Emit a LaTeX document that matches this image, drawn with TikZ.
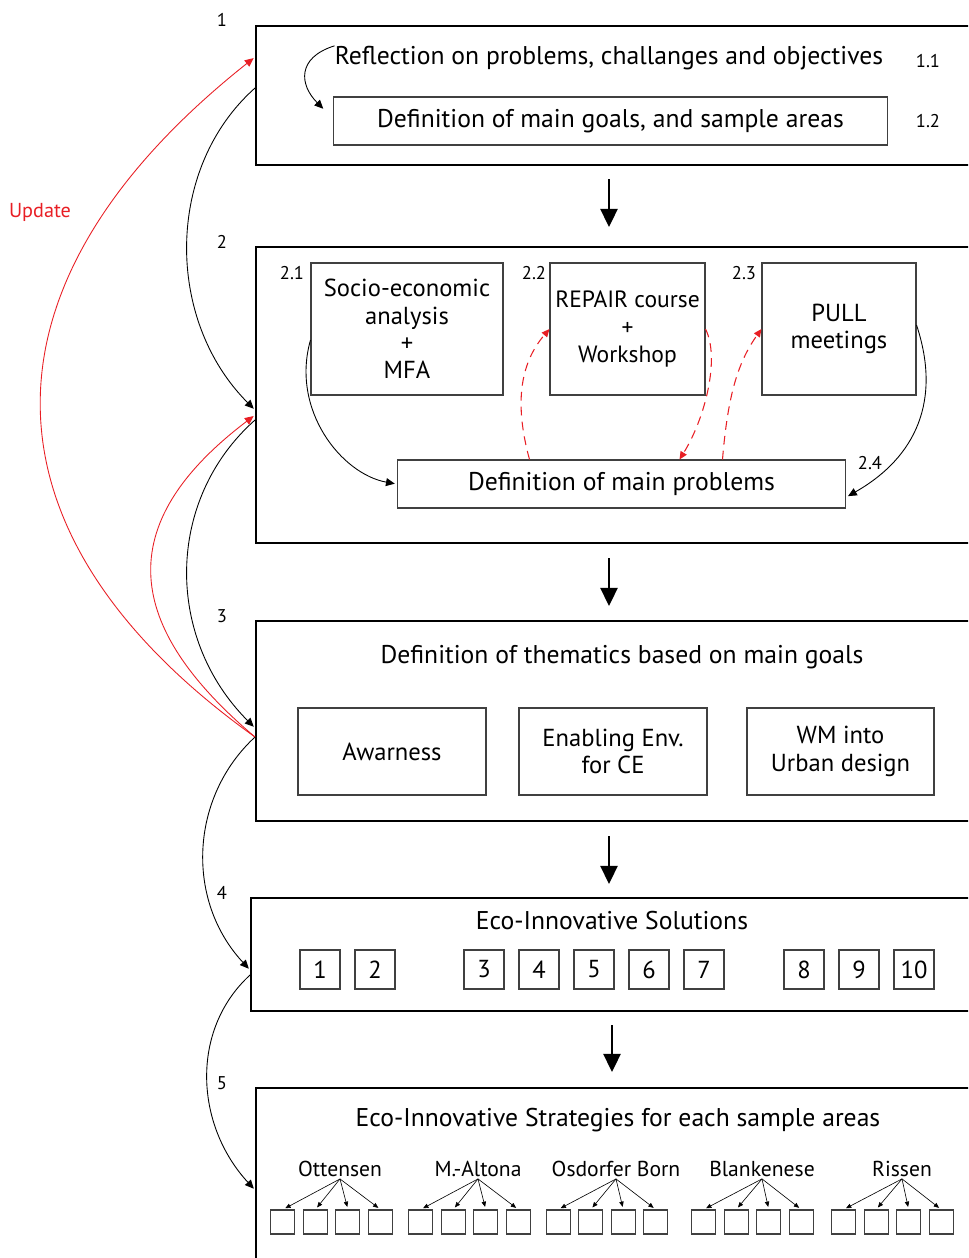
\documentclass[tikz,border=0pt]{standalone}
\usepackage{fontspec}
\setmainfont{PT Sans}
\usetikzlibrary{arrows.meta, positioning, calc}
\definecolor{updred}{RGB}{232,30,36}

\begin{document}
\begin{tikzpicture}[
  x=0.02cm, y=-0.02cm,
  stage/.style = {draw, line width=1.2pt, minimum width=14.88cm, inner sep=0pt},
  sub/.style   = {draw=black!75, line width=0.6pt, align=center, inner sep=0pt,
                  font=\fontsize{14}{15.5}\selectfont},
  wide/.style  = {sub, font=\fontsize{14.6}{16}\selectfont},
  ttl/.style   = {inner sep=0pt, font=\fontsize{14.6}{16}\selectfont},
  num/.style   = {font=\fontsize{10.5}{12}\selectfont},
  nbox/.style  = {sub, minimum width=0.8cm, minimum height=0.78cm},
  sbox/.style  = {draw=black!75, line width=0.6pt, minimum size=0.48cm, inner sep=0pt},
  area/.style  = {inner sep=1pt, font=\fontsize{12.3}{14}\selectfont},
  flow/.style  = {-{Triangle[length=0.36cm,width=0.34cm]}, line width=1.4pt},
  link/.style  = {-{Triangle[length=5pt,width=4.5pt]}, line width=0.5pt, shorten >=1pt},
  upd/.style   = {link, updred},
  fb/.style    = {-{Triangle[length=4.5pt,width=4pt]}, updred, line width=0.6pt,
                  dash pattern=on 5pt off 3.5pt},
  tiny/.style  = {-{Triangle[length=3pt,width=2.5pt]}, line width=0.35pt, shorten >=1.5pt},
]
\path[use as bounding box, clip] (0,0) rectangle (968,1258);

% ── Stage 1 ──────────────────────────────────────────────────────────────────
\node[stage, minimum height=2.78cm] (b1) at (628,95.5) {};
\node[num] (l1) at (222,20) {1};
\node[ttl] (ti1) at (609,58) {Reflection on problems, challanges and objectives};
\node[wide, minimum width=11.1cm, minimum height=0.96cm] (g12) at (610.5,121)
      {Definition of main goals, and sample areas};
\node[num] (n11) at (928,61)  {1.1};
\node[num] (n12) at (928,121) {1.2};
\draw[link] (ti1.north west) .. controls +(-38,12) and +(-25,-25) .. ([shift={(-8,-11)}]g12.west);

% ── Stage 2 ──────────────────────────────────────────────────────────────────
\node[stage, minimum height=5.92cm] (b2) at (628,395) {};
\node[num] (l2) at (222,242) {2};
\node[sub, minimum width=3.84cm, minimum height=2.64cm] (s21) at (407,329)
      {Socio-economic\\analysis\\+\\MFA};
\node[sub, minimum width=3.1cm,  minimum height=2.64cm, font=\fontsize{13.4}{15.5}\selectfont] (s22) at (627.5,329)
      {REPAIR course\\+\\Workshop};
\node[sub, minimum width=3.08cm, minimum height=2.64cm] (s23) at (839,329)
      {PULL\\meetings};
\node[wide, minimum width=8.98cm, minimum height=0.96cm] (s24) at (621.5,484)
      {Definition of main problems};
\node[num] (n21) at (292,273) {2.1};
\node[num] (n22) at (534,273) {2.2};
\node[num] (n23) at (744,273) {2.3};
\node[num] (n24) at (870,463) {2.4};

\draw[link] ([shift={(0,11)}]s21.west) .. controls +(-20,70) and +(-55,-10) .. (s24.west);
\draw[link] ([shift={(0,-4)}]s23.east) .. controls +(25,75) and +(70,-40) .. ([shift={(0,13)}]s24.east);

\draw[fb] ([shift={(-92,0)}]s24.north) .. controls +(-15,-55) and +(-30,35) .. (s22.west);
\draw[fb] (s22.east) .. controls +(15,30) and +(25,-40) .. ([shift={(58,0)}]s24.north);
\draw[fb] ([shift={(101,0)}]s24.north) .. controls +(5,-60) and +(-25,35) .. (s23.west);

% ── Stage 3 ──────────────────────────────────────────────────────────────────
\node[stage, minimum height=4cm] (b3) at (628,721) {};
\node[num] (l3) at (222,616) {3};
\node[ttl] (ti3) at (622,657) {Definition of thematics based on main goals};
\node[sub, minimum width=3.76cm, minimum height=1.74cm] (aw) at (392,751.5)  {Awarness};
\node[sub, minimum width=3.76cm, minimum height=1.74cm] (en) at (613,751.5)  {Enabling Env.\\for CE};
\node[sub, minimum width=3.74cm, minimum height=1.74cm] (wm) at (840.5,751.5) {WM into\\Urban design};

% ── Stage 4 ──────────────────────────────────────────────────────────────────
\node[stage, minimum width=14.98cm, minimum height=2.26cm] (b4) at (625.5,954.5) {};
\node[num] (l4) at (222,893) {4};
\node[ttl] (ti4) at (612,921) {Eco-Innovative Solutions};
\foreach \n/\x in {1/320, 2/375, 3/484, 4/539, 5/594, 6/649, 7/704, 8/804, 9/859, 10/914}
  \node[nbox] (e\n) at (\x,969.5) {\n};

% ── Stage 5 ──────────────────────────────────────────────────────────────────
\node[stage, minimum height=4.24cm] (b5) at (628,1194) {};
\node[num] (l5) at (222,1083) {5};
\node[ttl] (ti5) at (618,1120) {Eco-Innovative Strategies for each sample areas};
\foreach \i/\g/\lx/\name in {1/331.7/340/Ottensen, 2/469.5/478/M.-Altona,
    3/607/616/Osdorfer Born, 4/752.5/762/Blankenese, 5/892.4/902/Rissen} {
  \node[area] (a\i) at (\lx,1169) {\name};
  \foreach \j/\dx in {1/-48.75, 2/-16.25, 3/16.25, 4/48.75} {
    \node[sbox] (a\i\j) at (\g+\dx,1222) {};
    \draw[tiny] (a\i.south) -- (a\i\j.north);
  }
}

% ── Flow between stages ──────────────────────────────────────────────────────
\draw[flow, shorten <=0.26cm, shorten >=0.38cm] (b1.south -| ti1) -- (b2.north -| ti1);
\draw[flow, shorten <=0.28cm, shorten >=0.28cm] (b2.south -| ti1) -- (b3.north -| ti1);
\draw[flow, shorten <=0.28cm, shorten >=0.26cm] (b3.south -| ti1) -- (b4.north -| ti1);
\draw[flow, shorten <=0.26cm, shorten >=0.3cm]  (b4.south -| ti4) -- (b5.north -| ti4);

\draw[link] ([shift={(0,-7.5)}]b1.west) .. controls +(-90,80) and +(-90,-90) .. ([shift={(0,15)}]b2.west);
\draw[link] ([shift={(0,25)}]b2.west)   .. controls +(-90,80) and +(-90,-90) .. ([shift={(0,7)}]b3.west);
\draw[link] ([shift={(0,16)}]b3.west)   .. controls +(-65,60) and +(-65,-70) .. ([shift={(0,15.5)}]b4.west);
\draw[link] ([shift={(0,20.5)}]b4.west) .. controls +(-60,55) and +(-60,-65) .. ([shift={(0,-4)}]b5.west);

% ── Update loops ─────────────────────────────────────────────────────────────
\node[text=updred, font=\fontsize{11.5}{14}\selectfont] (upd) at (40,212) {Update};
\draw[upd] ([shift={(0,16)}]b3.west) .. controls +(-280,-200) and +(-290,230) .. ([shift={(0,-38.5)}]b1.west);
\draw[upd] ([shift={(0,16)}]b3.west) .. controls +(-130,-110) and +(-145,110) .. ([shift={(0,20)}]b2.west);

\end{tikzpicture}
\end{document}
